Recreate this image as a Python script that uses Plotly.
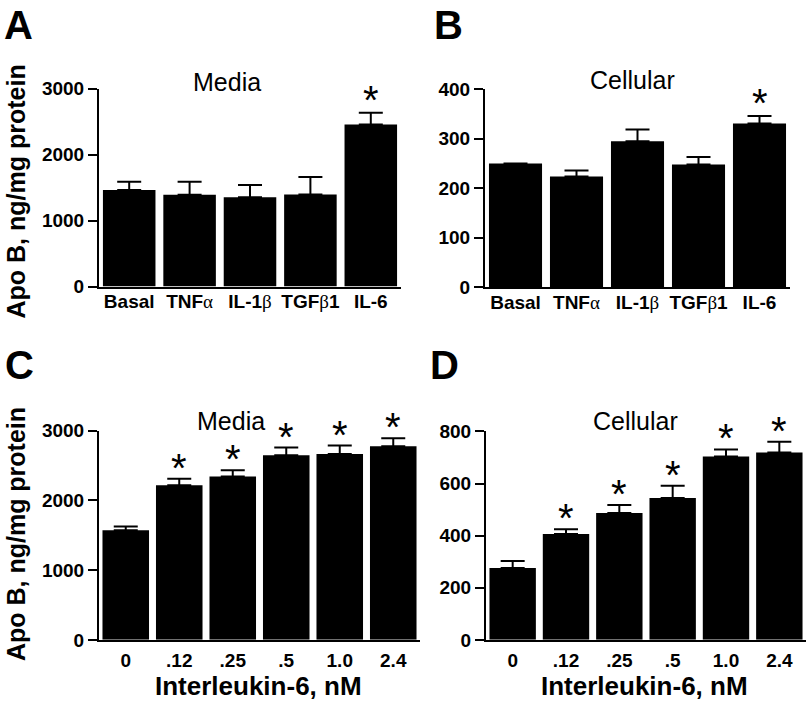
import plotly.graph_objects as go

W, H = 809, 712

# ---------------- data ----------------
treat_cats = ["Basal", "TNFα", "IL-1β", "TGFβ1", "IL-6"]
treat_ticktext = [
    "<b>Basal</b>",
    "<b>TNF</b><span style=\"font-family:Liberation Serif\">α</span>",
    "<b>IL-1</b><span style=\"font-family:Liberation Serif\">β</span>",
    "<b>TGF</b><span style=\"font-family:Liberation Serif\">β</span><b>1</b>",
    "<b>IL-6</b>",
]
media_treat = [1465, 1390, 1355, 1395, 2455]
media_treat_sem = [122, 200, 185, 267, 180]
media_treat_sig = [False, False, False, False, True]

cell_treat = [250, 224, 295, 248, 331]
cell_treat_sem = [0, 12, 24, 15, 15]
cell_treat_sig = [False, False, False, False, True]

dose_cats = ["0", ".12", ".25", ".5", "1.0", "2.4"]
media_dose = [1570, 2215, 2340, 2645, 2665, 2775]
media_dose_sem = [55, 95, 90, 110, 120, 115]
media_dose_sig = [False, True, True, True, True, True]

cell_dose = [276, 406, 487, 545, 704, 719]
cell_dose_sem = [27, 19, 31, 47, 27, 42]
cell_dose_sig = [False, True, True, True, True, True]

# ---------------- layout helpers ----------------
def px_x(a, b):
    return [a / W, b / W]

def px_y(top, bottom):
    return [1 - bottom / H, 1 - top / H]

FONT = "Liberation Sans, Arial, sans-serif"

panels = [
    dict(cats=treat_cats, ticktext=treat_ticktext, vals=media_treat, sem=media_treat_sem,
         sig=media_treat_sig, xd=px_x(99, 401), yd=px_y(81, 285), rng=[0, 3000], dtick=1000,
         title="Media", tpos=(227, 74), stand=-3, ast=-11),
    dict(cats=treat_cats, ticktext=treat_ticktext, vals=cell_treat, sem=cell_treat_sem,
         sig=cell_treat_sig, xd=px_x(485, 790), yd=px_y(81.7, 285.7), rng=[0, 400], dtick=100,
         title="Cellular", tpos=(632, 72), stand=-3, ast=-11),
    dict(cats=dose_cats, ticktext=["<b>%s</b>" % c for c in dose_cats], vals=media_dose,
         sem=media_dose_sem, sig=media_dose_sig, xd=px_x(99, 420), yd=px_y(433.3, 649),
         rng=[0, 3000], dtick=1000, title="Media", tpos=(231, 423), stand=2, ast=-13),
    dict(cats=dose_cats, ticktext=["<b>%s</b>" % c for c in dose_cats], vals=cell_dose,
         sem=cell_dose_sem, sig=cell_dose_sig, xd=px_x(486, 806), yd=px_y(434.3, 649),
         rng=[0, 800], dtick=200, title="Cellular", tpos=(635, 423), stand=2, ast=-13),
]

fig = go.Figure()
annotations = []
layout = dict(
    width=W, height=H, margin=dict(l=0, r=0, t=0, b=0),
    paper_bgcolor="white", plot_bgcolor="white", showlegend=False,
    font=dict(family=FONT, color="black"),
)

for i, p in enumerate(panels, start=1):
    xa = "x" if i == 1 else "x%d" % i
    ya = "y" if i == 1 else "y%d" % i
    n = len(p["cats"])
    fig.add_trace(go.Bar(
        x=p["cats"], y=p["vals"], xaxis=xa, yaxis=ya, width=0.87,
        marker=dict(color="black", line=dict(width=0)),
        error_y=dict(type="data", symmetric=False, array=p["sem"], arrayminus=[0] * n,
                     color="black", thickness=2, width=12),
    ))
    xkey = "xaxis" if i == 1 else "xaxis%d" % i
    ykey = "yaxis" if i == 1 else "yaxis%d" % i
    layout[xkey] = dict(
        domain=p["xd"], anchor=ya, type="category",
        range=[-0.5, n - 0.5], showline=True, linecolor="black", linewidth=2,
        ticks="", ticklen=0, showgrid=False, zeroline=False,
        tickmode="array", tickvals=p["cats"], ticktext=p["ticktext"],
        tickfont=dict(family=FONT, size=19, color="black"),
        ticklabelstandoff=p["stand"], fixedrange=True,
    )
    layout[ykey] = dict(
        domain=p["yd"], anchor=xa, range=p["rng"], dtick=p["dtick"], tick0=0,
        showline=True, linecolor="black", linewidth=2, ticks="outside", ticklen=9,
        tickwidth=2, tickcolor="black", showgrid=False, zeroline=False,
        tickfont=dict(family=FONT, size=19, color="black", weight="bold"),
        fixedrange=True,
    )
    tx, ty = p["tpos"]
    annotations.append(dict(text=p["title"], x=tx / W, y=1 - ty / H, xref="paper", yref="paper",
                            xanchor="center", yanchor="middle", showarrow=False,
                            font=dict(family=FONT, size=25, color="black")))
    for k, (v, s, g) in enumerate(zip(p["vals"], p["sem"], p["sig"])):
        if g:
            annotations.append(dict(text="*", x=k, y=v + s, xref=xa, yref=ya,
                                    xanchor="center", yanchor="bottom", yshift=p["ast"],
                                    showarrow=False,
                                    font=dict(family=FONT, size=40, color="black")))

for letter, (cx, cy) in zip("ABCD", [(18, 15), (448, 15), (19, 366), (445, 366)]):
    annotations.append(dict(text="<b>%s</b>" % letter, x=cx / W, y=1 - cy / H,
                            xref="paper", yref="paper", xanchor="center", yanchor="middle",
                            showarrow=False, font=dict(family=FONT, size=40, color="black")))

for cy in [187, 540]:
    annotations.append(dict(text="<b>Apo B, ng/mg protein</b>", x=0, y=1 - cy / H,
                            xref="paper", yref="paper", xanchor="left", yanchor="middle",
                            textangle=-90, showarrow=False,
                            font=dict(family=FONT, size=25, color="black")))

for cx in [258, 644]:
    annotations.append(dict(text="<b>Interleukin-6, nM</b>", x=cx / W, y=1 - 697 / H,
                            xref="paper", yref="paper", xanchor="center", yanchor="middle",
                            showarrow=False, font=dict(family=FONT, size=26, color="black")))

layout["annotations"] = annotations
fig.update_layout(**layout)
fig.write_html("out.html", config={"displayModeBar": False},
               post_script="document.body.style.margin='0';document.body.style.overflow='hidden';")
